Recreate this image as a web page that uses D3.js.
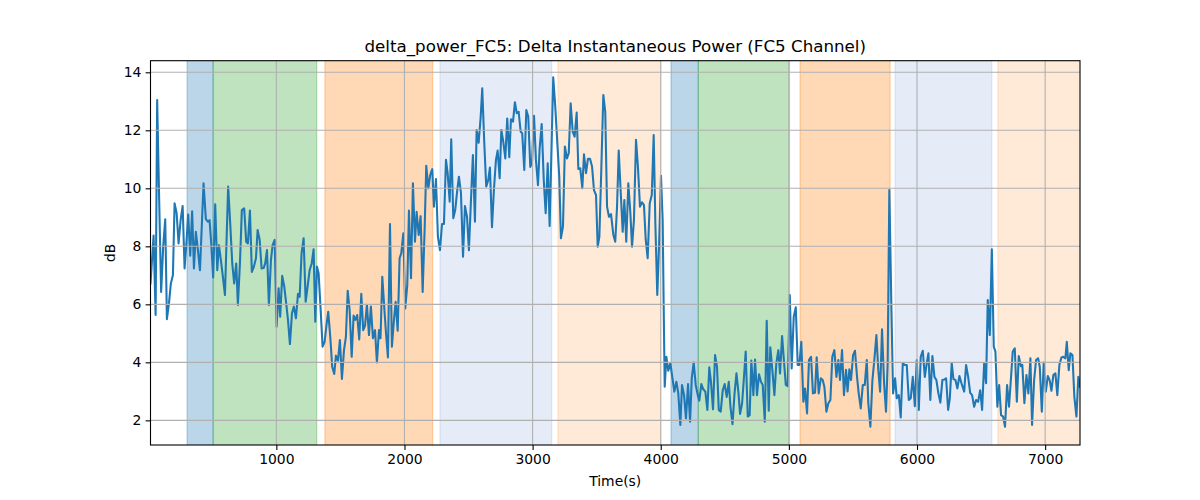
<!DOCTYPE html>
<html>
<head>
<meta charset="utf-8">
<script src="https://cdn.jsdelivr.net/npm/d3@7"></script>
<style>
  html, body { margin: 0; padding: 0; background: #fff; }
  svg { display: block; font-family: "DejaVu Sans", sans-serif; }
</style>
</head>
<body>
<svg id="chart" width="1200" height="500"></svg>
<script>
// ---------- DATA ----------
const chartTitle = "delta_power_FC5: Delta Instantaneous Power (FC5 Channel)";
const xLabel = "Time(s)";
const yLabel = "dB";
const xTicks = [1000, 2000, 3000, 4000, 5000, 6000, 7000];
const yTicks = [2, 4, 6, 8, 10, 12, 14];
const xDomain = [18, 7272];
const yDomain = [1.15, 14.40];

const timeSec = [
  18,42,58,70,84,101,117,133,146,162,
  177,193,206,222,237,253,269,284,300,312,
  328,343,357,372,388,404,432,450,466,479,
  492,507,523,539,552,567,583,599,624,640,
  656,671,687,700,716,731,749,765,778,794,
  809,825,841,854,870,885,901,913,927,942,
  958,971,987,1002,1018,1030,1046,1062,1077,1091,
  1106,1122,1137,1153,1169,1182,1197,1213,1229,1244,
  1260,1276,1291,1304,1317,1330,1346,1361,1377,1393,
  1405,1421,1436,1452,1465,1481,1496,1512,1528,1543,
  1557,1572,1588,1603,1616,1631,1647,1663,1678,1692,
  1707,1723,1738,1754,1770,1785,1801,1813,1827,1842,
  1856,1871,1887,1902,1918,1931,1947,1962,1975,1991,
  2006,2022,2035,2051,2066,2082,2095,2111,2126,2142,
  2158,2170,2186,2201,2217,2230,2246,2261,2277,2293,
  2308,2324,2337,2353,2365,2381,2396,2412,2425,2441,
  2457,2472,2488,2503,2519,2534,2550,2563,2579,2595,
  2607,2623,2638,2654,2667,2683,2698,2714,2727,2743,
  2756,2771,2787,2802,2818,2831,2847,2862,2876,2891,
  2907,2919,2935,2951,2966,2982,2995,3011,3026,3042,
  3055,3071,3087,3102,3118,3133,3146,3161,3177,3193,
  3208,3221,3237,3252,3268,3282,3297,3313,3328,3344,
  3357,3372,3388,3401,3417,3432,3448,3464,3479,3495,
  3508,3521,3536,3552,3567,3581,3596,3612,3630,3645,
  3659,3672,3688,3703,3716,3731,3747,3763,3776,3791,
  3807,3822,3838,3854,3869,3883,3898,3914,3930,3945,
  3958,3973,3989,4002,4015,4023,4031,4044,4059,4075,
  4090,4106,4122,4137,4153,4166,4182,4197,4213,4229,
  4242,4257,4273,4289,4301,4317,4332,4348,4364,4379,
  4392,4408,4424,4439,4453,4468,4484,4499,4515,4531,
  4544,4560,4576,4591,4607,4619,4635,4648,4663,4679,
  4694,4707,4723,4736,4751,4767,4782,4796,4812,4827,
  4843,4855,4871,4887,4902,4918,4931,4947,4962,4976,
  4991,5007,5022,5038,5054,5069,5082,5097,5113,5126,
  5142,5157,5173,5188,5204,5217,5233,5249,5264,5277,
  5293,5308,5324,5339,5355,5371,5386,5399,5415,5430,
  5446,5458,5472,5485,5501,5516,5532,5545,5561,5577,
  5592,5608,5620,5636,5652,5667,5683,5698,5712,5727,
  5743,5758,5771,5784,5800,5813,5829,5842,5858,5873,
  5889,5905,5920,5936,5951,5967,5983,5998,6014,6029,
  6045,6061,6076,6089,6104,6120,6136,6151,6167,6182,
  6198,6214,6227,6243,6256,6271,6284,6300,6315,6331,
  6347,6368,6383,6399,6415,6430,6446,6461,6477,6493,
  6508,6524,6539,6552,6568,6584,6599,6612,6627,6641,
  6656,6672,6687,6703,6718,6734,6747,6763,6779,6794,
  6810,6822,6838,6854,6869,6885,6898,6914,6929,6945,
  6958,6974,6989,7005,7021,7036,7049,7064,7080,7095,
  7111,7127,7142,7158,7169,7184,7197,7213,7228,7244,
  7259,7272
];

const powerDb = [
  6.72,8.37,5.63,13.04,9.94,6.43,7.99,8.93,5.49,6.03,
  6.72,7.01,9.48,9.14,8.10,8.90,9.39,7.24,8.22,9.10,
  7.68,9.21,7.24,8.50,7.87,7.18,10.17,8.94,8.85,8.90,
  8.10,6.93,9.45,7.18,8.04,7.53,6.95,6.32,10.06,8.79,
  7.41,6.72,7.41,5.98,7.42,9.25,9.31,8.16,8.10,9.23,
  7.12,7.30,7.59,8.56,8.22,7.24,7.25,7.41,7.87,5.98,
  7.53,8.04,8.22,5.23,6.55,5.57,6.98,6.61,6.03,5.46,
  4.63,5.69,5.92,5.52,6.36,6.26,7.76,8.28,6.09,6.61,
  7.18,7.41,7.90,5.40,7.30,7.07,5.80,4.54,4.71,5.34,
  5.74,4.88,3.85,3.60,4.23,4.06,4.77,3.43,4.42,4.88,
  6.47,5.80,4.19,5.61,5.46,5.63,4.79,6.36,5.11,5.26,
  5.98,4.94,5.92,4.83,5.11,4.00,5.11,4.83,6.95,5.92,
  5.00,4.17,8.77,4.54,5.46,6.09,5.09,7.59,7.76,8.45,
  5.86,6.67,9.23,6.90,10.17,8.16,9.19,8.39,9.04,6.43,
  8.68,10.78,10.00,10.46,10.66,9.37,10.32,8.33,7.87,8.77,
  8.77,10.98,10.52,9.54,11.69,8.97,9.25,9.94,10.40,9.83,
  7.64,9.39,9.02,7.87,9.60,11.15,8.85,12.01,11.57,12.47,
  13.45,11.55,10.06,10.29,10.72,8.66,9.94,10.98,11.30,10.35,
  12.01,11.61,11.03,12.41,11.07,12.38,12.30,12.97,12.59,12.64,
  11.95,11.90,10.63,12.70,12.47,10.74,10.86,12.50,10.98,10.11,
  11.38,12.22,10.29,9.14,10.86,8.70,11.09,13.83,12.81,11.55,
  10.40,8.28,8.68,11.44,11.03,11.21,12.93,11.95,11.78,12.61,
  10.67,10.69,10.00,11.17,10.52,11.02,11.02,10.75,9.94,9.77,
  7.99,8.33,10.63,13.22,12.64,9.37,9.02,9.11,8.40,8.16,
  9.37,11.30,9.83,8.50,9.60,8.16,10.17,9.14,7.99,8.91,
  11.67,10.75,9.37,9.52,9.42,8.22,7.59,9.48,9.77,11.84,
  8.79,6.32,8.33,10.43,8.91,5.92,3.16,4.19,3.71,3.97,
  3.50,2.99,3.33,2.93,1.84,3.22,2.87,2.07,3.25,1.95,
  3.45,3.99,3.22,2.87,2.68,3.25,3.07,2.99,2.36,3.83,
  3.33,2.38,4.25,3.85,2.36,2.30,3.04,3.25,2.81,3.33,
  2.47,1.87,2.93,3.62,2.93,2.22,2.59,3.39,4.37,2.13,
  2.18,4.06,2.87,4.10,2.87,3.59,3.33,3.22,1.95,5.43,
  2.33,4.52,3.73,2.87,3.97,4.42,3.62,4.91,4.02,3.22,
  3.18,6.32,3.79,5.57,5.90,3.91,3.91,4.71,2.64,3.10,
  2.24,4.08,4.19,2.93,2.95,4.17,2.93,3.45,3.39,3.16,
  2.30,2.59,2.70,4.19,4.42,3.50,4.08,3.39,4.42,2.87,
  3.74,3.00,3.76,3.39,4.25,4.40,3.50,2.93,2.41,3.22,
  3.22,4.08,2.59,1.78,3.39,4.08,4.94,3.73,2.99,5.14,
  3.28,2.30,3.97,9.94,5.92,2.93,3.45,2.76,2.87,2.10,
  3.97,3.91,3.91,2.70,2.76,3.50,2.49,4.08,2.36,4.19,
  4.40,3.50,3.97,4.31,2.70,4.22,3.50,3.39,2.93,2.61,
  3.39,3.41,3.45,2.36,2.76,3.97,3.42,3.39,3.10,3.53,
  3.28,2.99,3.91,3.50,2.95,2.87,2.47,2.70,2.64,3.04,
  2.36,3.97,3.28,6.15,4.94,7.90,4.54,4.37,2.47,3.22,
  2.18,2.13,1.78,3.22,2.47,3.50,4.37,4.48,2.64,4.22,
  3.87,3.91,2.59,3.56,2.93,4.14,1.84,3.39,4.08,4.14,
  3.85,2.30,3.99,2.99,3.53,3.37,3.02,3.56,3.62,2.87,
  3.91,4.17,4.19,4.14,4.71,3.73,4.31,4.25,2.81,2.13,
  3.50,3.16
];

// shaded phase intervals (start, end in seconds) and their kind
const spanStart = [304, 507, 1379, 2277, 3198, 4080, 4293, 5087, 5829, 6631];
const spanEnd   = [507, 1315, 2220, 3149, 4000, 4293, 5004, 5790, 6584, 7300];
const spanKind  = ["blue","green","orange","lightblue","lightorange","blue","green","orange","lightblue","lightorange"];

// ---------- STYLE ----------
const kindStyle = {
  blue:        { color: "#1f77b4", alpha: 0.30 },
  green:       { color: "#2ca02c", alpha: 0.30 },
  orange:      { color: "#ff7f0e", alpha: 0.30 },
  lightblue:   { color: "#4f81c7", alpha: 0.15 },
  lightorange: { color: "#ff7f0e", alpha: 0.16 }
};

const svg = d3.select("#chart");
const L = 150.5, R = 1080, T = 60.7, B = 445;

const x = d3.scaleLinear().domain(xDomain).range([L, R]);
const y = d3.scaleLinear().domain(yDomain).range([B, T]);

svg.append("defs").append("clipPath").attr("id", "clip")
  .append("rect").attr("x", L).attr("y", T).attr("width", R - L).attr("height", B - T);

const plot = svg.append("g").attr("clip-path", "url(#clip)");

// spans
const spans = spanStart.map((s, i) => ({ s, e: spanEnd[i], k: spanKind[i] }));
plot.selectAll("rect.span").data(spans).enter().append("rect")
  .attr("class", "span")
  .attr("x", d => x(d.s))
  .attr("y", T - 5)
  .attr("width", d => x(d.e) - x(d.s))
  .attr("height", B - T + 10)
  .attr("fill", d => kindStyle[d.k].color)
  .attr("fill-opacity", d => kindStyle[d.k].alpha)
  .attr("stroke", d => kindStyle[d.k].color)
  .attr("stroke-opacity", d => kindStyle[d.k].alpha)
  .attr("stroke-width", 1.3);

// grid
const grid = svg.append("g");
grid.selectAll("line.gx").data(xTicks).enter().append("line")
  .attr("x1", d => x(d)).attr("x2", d => x(d))
  .attr("y1", T).attr("y2", B)
  .attr("stroke", "#b0b0b0").attr("stroke-width", 1.1);
grid.selectAll("line.gy").data(yTicks).enter().append("line")
  .attr("x1", L).attr("x2", R)
  .attr("y1", d => y(d)).attr("y2", d => y(d))
  .attr("stroke", "#b0b0b0").attr("stroke-width", 1.1);

// line
const pts = timeSec.map((t, i) => [t, powerDb[i]]);
plot.append("path")
  .datum(pts)
  .attr("fill", "none")
  .attr("stroke", "#1f77b4")
  .attr("stroke-width", 2.08)
  .attr("stroke-linejoin", "round")
  .attr("stroke-linecap", "square")
  .attr("d", d3.line().x(d => x(d[0])).y(d => y(d[1])));

// axes
const xAxis = d3.axisBottom(x).tickValues(xTicks).tickSize(4.9).tickPadding(4.2).tickFormat(d3.format("d"));
const yAxis = d3.axisLeft(y).tickValues(yTicks).tickSize(4.9).tickPadding(4.2).tickFormat(d3.format("d"));

const gx = svg.append("g").attr("transform", `translate(0,${B})`).call(xAxis);
const gy = svg.append("g").attr("transform", `translate(${L},0)`).call(yAxis);
[gx, gy].forEach(g => {
  g.select(".domain").remove();
  g.selectAll(".tick line").attr("stroke", "#000").attr("stroke-width", 1.1);
  g.selectAll(".tick text").attr("fill", "#000")
    .style("font-family", "'DejaVu Sans', sans-serif").style("font-size", "13.9px");
});

// spines
svg.append("rect").attr("x", L).attr("y", T).attr("width", R - L).attr("height", B - T)
  .attr("fill", "none").attr("stroke", "#000").attr("stroke-width", 1.1);

// labels
svg.append("text").attr("x", (L + R) / 2).attr("y", 52)
  .attr("text-anchor", "middle").style("font-size", "16.7px").attr("fill", "#000")
  .text(chartTitle);
svg.append("text").attr("x", (L + R) / 2).attr("y", 486)
  .attr("text-anchor", "middle").style("font-size", "13.9px").attr("fill", "#000")
  .text(xLabel);
svg.append("text").attr("transform", `translate(115,${(T + B) / 2}) rotate(-90)`)
  .attr("text-anchor", "middle").style("font-size", "13.9px").attr("fill", "#000")
  .text(yLabel);
</script>
</body>
</html>
